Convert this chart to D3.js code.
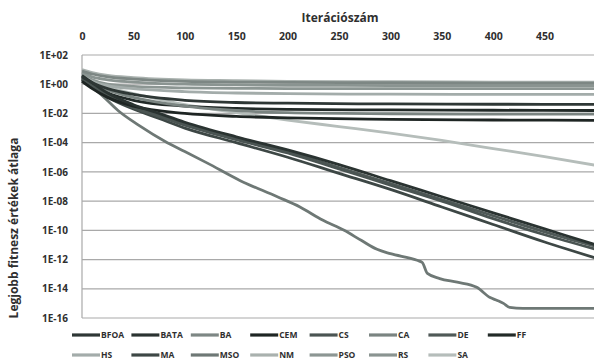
<!DOCTYPE html>
<html>
<head>
<meta charset="utf-8">
<script src="https://cdn.jsdelivr.net/npm/d3@7"></script>
<style>
  body { margin: 0; background: #fff; }
  svg text { font-family: "Open Sans", "DejaVu Sans", sans-serif; font-weight: 700; fill: #2f2f2f; }
</style>
</head>
<body>
<div id="chart"></div>
<script>
// iterations where the values were read (log10 of the average best fitness)
const iterFlat = [0, 10, 25, 50, 100, 150, 200, 300, 400, 500]
const iterFast = [0, 10, 25, 50, 75, 100, 150, 200, 250, 300, 350, 400, 450, 500]
const iterSA = [0, 30, 60, 100, 150, 200, 250, 300, 350, 400, 450, 500]
const iterMSO = [0, 10, 20, 35, 55, 83, 100, 122, 154, 190, 212, 234, 255, 272, 287, 300,
  326, 331, 336, 348, 365, 384, 397, 404, 410, 416, 429, 500]

const bfoa = [0.5, 0.1, -0.3, -0.7, -1.1, -1.25, -1.3, -1.35, -1.37, -1.38]
const bata = [0.6, 0.1, -0.6, -1.4, -2.0, -2.6, -3.6, -4.5, -5.5, -6.6, -7.7, -8.8, -9.9, -11.0]
const ba = [0.9, 0.7, 0.5, 0.35, 0.2, 0.15, 0.12, 0.1, 0.08, 0.08]
const cem = [0.2, -0.3, -0.9, -1.5, -2.0, -2.2, -2.3, -2.4, -2.45, -2.47]
const cs = [0.4, -0.1, -0.8, -1.6, -2.2, -2.8, -3.8, -4.7, -5.8, -6.9, -8.0, -9.2, -10.3, -11.3]
const ca = [0.4, 0.0, -0.4, -0.9, -1.5, -1.8, -1.95, -2.02, -2.05, -2.05]
const de = [0.5, 0.0, -0.7, -1.5, -2.1, -2.7, -3.7, -4.6, -5.7, -6.8, -7.9, -9.0, -10.1, -11.1]
const ff = [0.3, -0.1, -0.6, -1.1, -1.5, -1.65, -1.72, -1.76, -1.78, -1.8]
const hs = [0.6, 0.2, -0.1, -0.3, -0.5, -0.6, -0.65, -0.68, -0.7, -0.7]
const ma = [0.3, -0.2, -0.9, -1.7, -2.35, -3.0, -4.0, -5.0, -6.1, -7.2, -8.4, -9.6, -10.8, -11.9]
const mso = [0.5, -0.2, -0.8, -1.8, -2.8, -4.0, -4.6, -5.4, -6.6, -7.7, -8.4, -9.3, -10.0, -10.7,
  -11.3, -11.6, -12.05, -12.2, -12.95, -13.3, -13.55, -13.9, -14.6, -14.8, -15.0, -15.27, -15.34, -15.34]
const nm = [1.0, 0.8, 0.6, 0.45, 0.3, 0.25, 0.2, 0.17, 0.15, 0.15]
const pso = [0.7, 0.3, 0.0, -0.15, -0.25, -0.28, -0.3, -0.3, -0.3, -0.3]
const rs = [0.8, 0.5, 0.3, 0.15, 0.0, -0.05, -0.07, -0.09, -0.1, -0.1]
const sa = [0.3, -0.3, -0.8, -1.4, -1.95, -2.45, -2.9, -3.35, -3.85, -4.4, -4.95, -5.55]

const names = ['BFOA', 'BATA', 'BA', 'CEM', 'CS', 'CA', 'DE', 'FF', 'HS', 'MA', 'MSO', 'NM', 'PSO', 'RS', 'SA']
const colors = ['#2e3735', '#2a3331', '#7d8784', '#1e2523', '#4a5452', '#7a8481', '#4f5957', '#222a28',
  '#a3acaa', '#3d4745', '#6e7875', '#a9b1ae', '#8c9693', '#8a9491', '#b5bdba']

const xTicks = [0, 50, 100, 150, 200, 250, 300, 350, 400, 450]
const yTicks = [1e2, 1e0, 1e-2, 1e-4, 1e-6, 1e-8, 1e-10, 1e-12, 1e-14, 1e-16]
const yTickLabels = ['1E+02', '1E+00', '1E-02', '1E-04', '1E-06', '1E-08', '1E-10', '1E-12', '1E-14', '1E-16']

const series = [
  { iter: iterFlat, vals: bfoa }, { iter: iterFast, vals: bata }, { iter: iterFlat, vals: ba },
  { iter: iterFlat, vals: cem }, { iter: iterFast, vals: cs }, { iter: iterFlat, vals: ca },
  { iter: iterFast, vals: de }, { iter: iterFlat, vals: ff }, { iter: iterFlat, vals: hs },
  { iter: iterFast, vals: ma }, { iter: iterMSO, vals: mso }, { iter: iterFlat, vals: nm },
  { iter: iterFlat, vals: pso }, { iter: iterFlat, vals: rs }, { iter: iterSA, vals: sa }
].map((s, i) => ({ name: names[i], color: colors[i], points: s.iter.map((t, j) => [t, Math.pow(10, s.vals[j])]) }))

const width = 594
const height = 363

const svg = d3.select('#chart').append('svg')
  .attr('width', width)
  .attr('height', height)

const x = d3.scaleLinear().domain([0, 500]).range([82, 596])
const y = d3.scaleLog().domain([1e-16, 1e2]).range([318, 55])

// horizontal grid lines
svg.append('g')
  .selectAll('line')
  .data(yTicks)
  .join('line')
  .attr('x1', x(0))
  .attr('x2', width)
  .attr('y1', d => y(d))
  .attr('y2', d => y(d))
  .attr('stroke', '#a9a9a9')
  .attr('stroke-width', 1.2)

// left axis line
svg.append('line')
  .attr('x1', x(0)).attr('x2', x(0))
  .attr('y1', y(1e2)).attr('y2', y(1e-16))
  .attr('stroke', '#a9a9a9')
  .attr('stroke-width', 1.2)

// top x axis
const xAxis = d3.axisTop(x).tickValues(xTicks).tickSize(0).tickPadding(15)
const gx = svg.append('g')
  .attr('transform', `translate(0,${y(1e2)})`)
  .call(xAxis)
gx.select('.domain').remove()
gx.selectAll('text').style('font-size', '10.5px').attr('font-family', null)

// left y axis
const yAxis = d3.axisLeft(y).tickValues(yTicks).tickSize(0).tickPadding(14)
  .tickFormat((d, i) => yTickLabels[i])
const gy = svg.append('g')
  .attr('transform', `translate(${x(0)},0)`)
  .call(yAxis)
gy.select('.domain').remove()
gy.selectAll('text').style('font-size', '10px').attr('font-family', null)

// lines
const line = d3.line()
  .x(d => x(d[0]))
  .y(d => y(d[1]))
  .curve(d3.curveMonotoneX)

svg.append('g')
  .selectAll('path')
  .data(series.slice().reverse())
  .join('path')
  .attr('d', d => line(d.points))
  .attr('fill', 'none')
  .attr('stroke', d => d.color)
  .attr('stroke-width', 2.8)

// titles
svg.append('text')
  .attr('x', 340)
  .attr('y', 22)
  .attr('text-anchor', 'middle')
  .style('font-size', '12px')
  .text('Iterációszám')

svg.append('text')
  .attr('transform', 'translate(18,228) rotate(-90)')
  .attr('text-anchor', 'middle')
  .style('font-size', '12px')
  .text('Legjobb fitnesz értékek átlaga')

// legend, laid out on a grid of equal cells
const legendStep = 59.4
const legend = svg.append('g')
  .selectAll('g')
  .data(series)
  .join('g')
  .attr('transform', (d, i) => `translate(${72 + (i % 8) * legendStep},${i < 8 ? 335 : 355})`)

legend.append('line')
  .attr('x1', 0).attr('x2', 28)
  .attr('stroke', d => d.color)
  .attr('stroke-width', 3.2)

legend.append('text')
  .attr('x', 29)
  .attr('dy', '0.35em')
  .style('font-size', '8.5px')
  .text(d => d.name)
</script>
</body>
</html>
